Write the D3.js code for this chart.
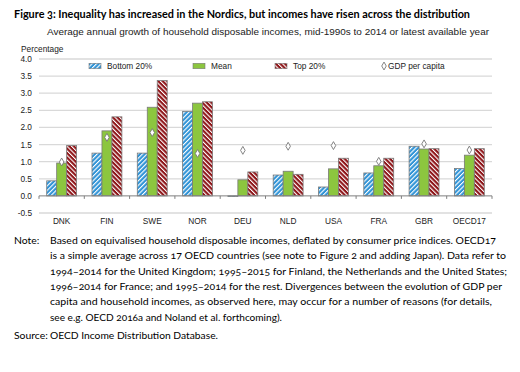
<!DOCTYPE html>
<html>
<head>
<meta charset="utf-8">
<script src="https://cdn.jsdelivr.net/npm/d3@7"></script>
<style>
  body { margin: 0; background: #fff; }
  svg { display: block; }
  .serif { font-family: Lato, "Open Sans", sans-serif; font-variant-numeric: oldstyle-nums; }
  .chart text { font-family: "Liberation Sans", Arial, sans-serif; fill: #222; }
</style>
</head>
<body>
<div id="graph-container"></div>
<script>
const countries = ["DNK", "FIN", "SWE", "NOR", "DEU", "NLD", "USA", "FRA", "GBR", "OECD17"];
const bottom20 = [0.44, 1.25, 1.25, 2.47, -0.02, 0.61, 0.26, 0.67, 1.45, 0.80];
const mean = [0.96, 1.90, 2.59, 2.71, 0.47, 0.72, 0.79, 0.88, 1.37, 1.19];
const top20 = [1.47, 2.31, 3.37, 2.75, 0.70, 0.63, 1.10, 1.10, 1.38, 1.38];
const gdpPerCapita = [0.99, 1.71, 1.85, 1.24, 1.33, 1.45, 1.47, 1.01, 1.52, 1.34];
const yTicks = [-0.5, 0, 0.5, 1, 1.5, 2, 2.5, 3, 3.5, 4];
const seriesNames = ["Bottom 20%", "Mean", "Top 20%"];

const noteLines = [
  "Based on equivalised household disposable incomes, deflated by consumer price indices. OECD17",
  "is a simple average across 17 OECD countries (see note to Figure 2 and adding Japan). Data refer to",
  "1994\u20132014 for the United Kingdom; 1995\u20132015 for Finland, the Netherlands and the United States;",
  "1996\u20132014 for France; and 1995\u20132014 for the rest. Divergences between the evolution of GDP per",
  "capita and household incomes, as observed here, may occur for a number of reasons (for details,",
  "see e.g. OECD 2016a and Noland et al. forthcoming).",
];
const noteWidths = [446, 456, 457, 452, 442, 232];

const svgWidth = 520;
const svgHeight = 372;

const svg = d3
  .select("#graph-container")
  .append("svg")
  .attr("width", svgWidth)
  .attr("height", svgHeight);

// hatch patterns
const defs = svg.append("defs");
const makeHatch = (id, bg, angle) => {
  const p = defs
    .append("pattern")
    .attr("id", id)
    .attr("patternUnits", "userSpaceOnUse")
    .attr("width", 3.2)
    .attr("height", 3.2)
    .attr("patternTransform", `rotate(${angle})`);
  p.append("rect").attr("width", 3.2).attr("height", 3.2).attr("fill", bg);
  p.append("rect").attr("width", 1.1).attr("height", 3.2).attr("fill", "#fff");
};
makeHatch("hatch-blue", "#2f93d6", 45);
makeHatch("hatch-red", "#8e1418", -45);

const fills = ["url(#hatch-blue)", "#8cc63f", "url(#hatch-red)"];

// titles
svg
  .append("text")
  .attr("class", "serif")
  .attr("x", 14)
  .attr("y", 18)
  .attr("font-size", 12)
  .attr("font-weight", "bold")
  .attr("textLength", 456)
  .attr("lengthAdjust", "spacingAndGlyphs")
  .text("Figure 3: Inequality has increased in the Nordics, but incomes have risen across the distribution");

const chart = svg.append("g").attr("class", "chart");

chart
  .append("text")
  .attr("x", 47)
  .attr("y", 35)
  .attr("font-size", 9.3)
  .attr("textLength", 442)
  .attr("lengthAdjust", "spacingAndGlyphs")
  .text("Average annual growth of household disposable incomes, mid-1990s to 2014 or latest available year");

const xScale = d3
  .scaleBand()
  .domain(countries)
  .range([39, 492])
  .paddingInner(0.34)
  .paddingOuter(0.17);

const xInner = d3
  .scaleBand()
  .domain(seriesNames)
  .range([0, xScale.bandwidth()]);

const yScale = d3.scaleLinear().domain([-0.5, 4]).range([213, 59]);

// gridlines
chart
  .selectAll("line.grid")
  .data(yTicks.filter((d) => d !== 0))
  .enter()
  .append("line")
  .attr("class", "grid")
  .attr("x1", 39)
  .attr("x2", 492)
  .attr("y1", (d) => yScale(d))
  .attr("y2", (d) => yScale(d))
  .attr("stroke", "#d9d9d9")
  .attr("stroke-width", 1.3);

chart
  .selectAll("text.ytick")
  .data(yTicks)
  .enter()
  .append("text")
  .attr("class", "ytick")
  .attr("x", 32)
  .attr("y", (d) => yScale(d) + 3)
  .attr("text-anchor", "end")
  .attr("font-size", 8.3)
  .text((d) => d.toFixed(1));

chart
  .append("text")
  .attr("x", 21)
  .attr("y", 52)
  .attr("font-size", 8.3)
  .text("Percentage");

// bars
const rows = countries.map((c, i) => ({
  country: c,
  values: [bottom20[i], mean[i], top20[i]],
  gdp: gdpPerCapita[i],
}));

const groups = chart
  .selectAll("g.group")
  .data(rows)
  .enter()
  .append("g")
  .attr("class", "group")
  .attr("transform", (d) => `translate(${xScale(d.country)},0)`);

groups
  .selectAll("rect")
  .data((d) => d.values.map((v, j) => ({ name: seriesNames[j], v, j })))
  .enter()
  .append("rect")
  .attr("x", (d) => xInner(d.name))
  .attr("width", xInner.bandwidth())
  .attr("y", (d) => Math.min(yScale(d.v), yScale(0)))
  .attr("height", (d) => Math.abs(yScale(d.v) - yScale(0)))
  .attr("fill", (d) => fills[d.j])
  .attr("stroke", "#7a7a7a")
  .attr("stroke-width", 0.8);

// x axis
chart
  .append("line")
  .attr("x1", 39)
  .attr("x2", 492)
  .attr("y1", yScale(0))
  .attr("y2", yScale(0))
  .attr("stroke", "#7f7f7f")
  .attr("stroke-width", 1);

const edges = countries.map((c) => xScale(c) - (xScale.step() * xScale.paddingInner()) / 2);
edges.push(xScale(countries[countries.length - 1]) + xScale.bandwidth() + (xScale.step() * xScale.paddingInner()) / 2);

chart
  .selectAll("line.xtick")
  .data(edges)
  .enter()
  .append("line")
  .attr("class", "xtick")
  .attr("x1", (d) => d)
  .attr("x2", (d) => d)
  .attr("y1", yScale(0))
  .attr("y2", yScale(0) + 3)
  .attr("stroke", "#7f7f7f");

chart
  .selectAll("text.xlabel")
  .data(countries)
  .enter()
  .append("text")
  .attr("class", "xlabel")
  .attr("x", (d) => xScale(d) + xScale.bandwidth() / 2)
  .attr("y", 224)
  .attr("text-anchor", "middle")
  .attr("font-size", 8.3)
  .text((d) => d);

// GDP markers
const diamond = d3.symbol().type(d3.symbolDiamond).size(18);
groups
  .append("path")
  .attr("d", diamond)
  .attr("transform", (d) => `translate(${xInner("Mean") + xInner.bandwidth() / 2},${yScale(d.gdp)})`)
  .attr("fill", "#fff")
  .attr("stroke", "#777")
  .attr("stroke-width", 0.9);

// legend
const legendX = [89, 193, 275];
const legend = chart
  .selectAll("g.legend")
  .data(seriesNames)
  .enter()
  .append("g")
  .attr("class", "legend")
  .attr("transform", (d, i) => `translate(${legendX[i]},66)`);

legend
  .append("rect")
  .attr("x", 0)
  .attr("y", -2.7)
  .attr("width", 12)
  .attr("height", 5.4)
  .attr("fill", (d, i) => fills[i])
  .attr("stroke", "#7a7a7a")
  .attr("stroke-width", 0.6);

legend
  .append("text")
  .attr("x", 18)
  .attr("y", 3)
  .attr("font-size", 8.3)
  .text((d) => d);

chart
  .append("path")
  .attr("d", diamond)
  .attr("transform", "translate(384,66)")
  .attr("fill", "#fff")
  .attr("stroke", "#777")
  .attr("stroke-width", 0.9);

chart
  .append("text")
  .attr("x", 388)
  .attr("y", 69)
  .attr("font-size", 8.3)
  .text("GDP per capita");

// notes
svg
  .append("text")
  .attr("class", "serif")
  .attr("x", 14)
  .attr("y", 244)
  .attr("font-size", 10.4)
  .text("Note:");

svg
  .selectAll("text.note")
  .data(noteLines)
  .enter()
  .append("text")
  .attr("class", "serif note")
  .attr("x", 50)
  .attr("y", (d, i) => 244 + i * 15.3)
  .attr("font-size", 10.4)
  .attr("textLength", (d, i) => noteWidths[i])
  .attr("lengthAdjust", "spacingAndGlyphs")
  .text((d) => d);

svg
  .append("text")
  .attr("class", "serif")
  .attr("x", 14)
  .attr("y", 339)
  .attr("font-size", 10.4)
  .text("Source:");

svg
  .append("text")
  .attr("class", "serif")
  .attr("x", 50)
  .attr("y", 339)
  .attr("font-size", 10.4)
  .attr("textLength", 168)
  .attr("lengthAdjust", "spacingAndGlyphs")
  .text("OECD Income Distribution Database.");
</script>
</body>
</html>
